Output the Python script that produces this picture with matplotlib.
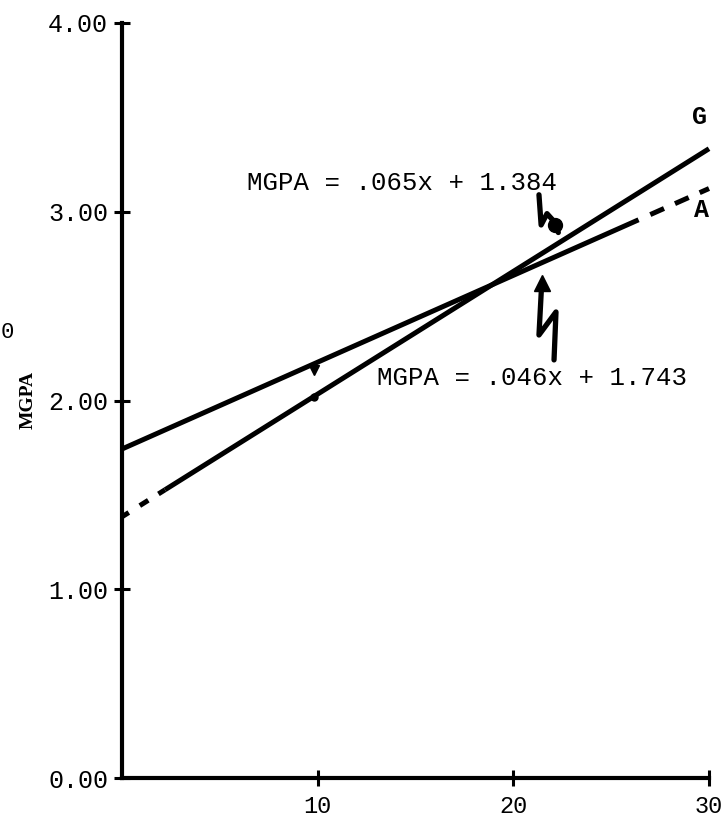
import numpy as np
import matplotlib
matplotlib.use("Agg")
import matplotlib.pyplot as plt

# regression lines: MGPA = slope * x + intercept
groups = ["G", "A"]
slopes = [0.065, 0.046]
intercepts = [1.384, 1.743]
solid_ranges = [(2.2, 30.0), (0.0, 26.4)]
dashed_ranges = [(0.0, 2.2), (27.0, 30.0)]
dash_patterns = [(0, (1.6, 2.6, 2.0, 2.4)), (0, (3.0, 2.4))]
end_labels = [(29.5, 3.50), (29.6, 3.01)]

x_ticks = [10, 20, 30]
x_tick_labels = ["10", "20", "30"]
y_ticks = [0, 1, 2, 3, 4]
y_tick_labels = ["0.00", "1.00", "2.00", "3.00", "4.00"]

mono = "Liberation Mono"

fig = plt.figure(figsize=(7.28, 8.24), dpi=100)
ax = fig.add_axes([122 / 728, 46 / 824, 587 / 728, 755 / 824])
ax.set_xlim(0, 30)
ax.set_ylim(0, 4)
ax.patch.set_alpha(0)

for s in ["top", "right"]:
    ax.spines[s].set_visible(False)
for s in ["left", "bottom"]:
    ax.spines[s].set_linewidth(3.0)

ax.set_xticks(x_ticks)
ax.set_xticklabels(x_tick_labels, fontfamily=mono, fontsize=17)
ax.set_yticks(y_ticks)
ax.set_yticklabels(y_tick_labels, fontfamily=mono, fontsize=18)
ax.tick_params(direction="inout", length=12, width=2.2, pad=4)
ax.tick_params(axis="x", pad=6)

for i, g in enumerate(groups):
    m, b = slopes[i], intercepts[i]
    x0, x1 = solid_ranges[i]
    xs = np.array([x0, x1])
    ax.plot(xs, m * xs + b, color="black", lw=3.6, solid_capstyle="butt",
            clip_on=False)
    d0, d1 = dashed_ranges[i]
    xd = np.array([d0, d1])
    ax.plot(xd, m * xd + b, color="black", lw=3.6, linestyle=dash_patterns[i],
            clip_on=False)
    lx, ly = end_labels[i]
    ax.text(lx, ly, g, fontfamily=mono, fontsize=18, fontweight="bold",
            ha="center", va="center")

# equation labels
ax.text(6.39, 3.15, "MGPA = .065x + 1.384", fontfamily=mono, fontsize=18.5,
        ha="left", va="center")
ax.text(13.03, 2.12, "MGPA = .046x + 1.743", fontfamily=mono, fontsize=18.5,
        ha="left", va="center")

# hand-drawn pointers to each line
ax.plot([21.31, 21.42, 21.72, 22.07, 22.30], [3.09, 2.93, 2.99, 2.95, 2.89],
        color="black", lw=3.8, solid_capstyle="round", solid_joinstyle="round")
ax.plot([22.12], [2.93], marker="o", ms=10, color="black")
ax.plot([22.08, 22.18, 21.31, 21.45], [2.215, 2.469, 2.347, 2.62],
        color="black", lw=3.8, solid_capstyle="round", solid_joinstyle="round")
ax.plot([21.45], [2.62], marker="^", ms=11, color="black")

# small marks along the lines near x = 10
ax.plot([9.8], [slopes[1] * 9.8 + intercepts[1] - 0.03], marker="v", ms=7,
        color="black")
ax.plot([9.8], [slopes[0] * 9.8 + intercepts[0]], marker="o", ms=5,
        color="black")

fig.text(28 / 728, 1 - 400 / 824, "MGPA", family="Liberation Serif",
         fontsize=14, fontweight="bold", rotation=90, ha="center",
         va="center")
fig.text(1 / 728, 1 - 333 / 824, "0", family=mono, fontsize=16, ha="left",
         va="center")

fig.savefig("out.png", dpi=100, facecolor="white")
